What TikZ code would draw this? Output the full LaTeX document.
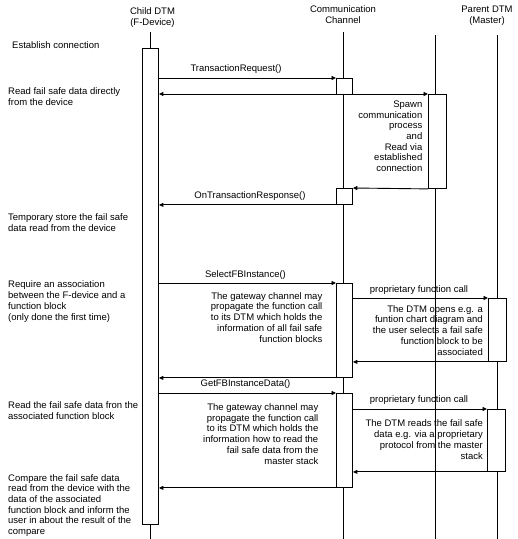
\documentclass[tikz,border=0pt]{standalone}
\usepackage{fontspec}
\setmainfont{Liberation Sans}
\usetikzlibrary{arrows.meta}
\begin{document}
\begin{tikzpicture}[x=1pt,y=-1pt,
  every node/.style={font=\fontsize{9.5}{10.7}\selectfont, inner sep=0pt},
  life/.style={line width=0.9pt},
  act/.style={draw, line width=0.9pt, fill=white, anchor=north west},
  msg/.style={line width=0.9pt, -{Triangle[length=4.5pt,width=4pt]}},
  dmsg/.style={line width=0.9pt, {Triangle[length=4.5pt,width=4pt]}-{Triangle[length=4.5pt,width=4pt]}},
  lbl/.style={anchor=base},
  ltxt/.style={anchor=base west, align=left},
  rtxt/.style={anchor=base east, align=right},
  head/.style={anchor=base, align=center}
]
\useasboundingbox (0,0) rectangle (518,539);
% lifeline heads (positions give the baseline of the last line)
\node[head] (hchild) at (152.5,25) {Child DTM\\(F-Device)};
\node[head] (hcomm) at (343,23.5) {Communication\\Channel};
\node[head] (hpar) at (487,23.5) {Parent DTM\\(Master)};
\coordinate (tchild) at (150,32);
\coordinate (bchild) at (150,539);
\coordinate (tcomm) at (343,32);
\coordinate (bcomm) at (343,539);
\coordinate (tmid) at (435,35);
\coordinate (bmid) at (435,539);
\coordinate (tpar) at (497,35);
\coordinate (bpar) at (497,539);
\draw[life] (tchild) -- (bchild);
\draw[life] (tcomm) -- (bcomm);
\draw[life] (tmid) -- (bmid);
\draw[life] (tpar) -- (bpar);

% activation boxes
\node[act, minimum width=16, minimum height=476.5] (cb) at (142,47.5) {};
\node[act, minimum width=16, minimum height=16] (cc1) at (336,78) {};
\node[act, minimum width=18, minimum height=94] (sp) at (428,94) {};
\node[act, minimum width=16, minimum height=16] (cc2) at (336,188) {};
\node[act, minimum width=16, minimum height=94] (cc3) at (336,283) {};
\node[act, minimum width=17.5, minimum height=63] (pb1) at (488,298) {};
\node[act, minimum width=16, minimum height=94] (cc4) at (336,393) {};
\node[act, minimum width=18, minimum height=62] (pb2) at (487,409) {};

% messages
\draw[msg] (cb.east |- cc1.north) -- (cc1.north west);
\draw[dmsg] (cb.east |- sp.north) -- (sp.north west);
\draw[msg] (sp.south west) -- (cc2.north east);
\draw[msg] (cc2.south west) -- (cb.east |- cc2.south);
\draw[msg] (cb.east |- cc3.north) -- (cc3.north west);
\draw[msg] (cc3.east |- pb1.north) -- (pb1.north west);
\draw[msg] (pb1.south west) -- (cc3.east |- pb1.south);
\draw[msg] (cc3.south west) -- (cb.east |- cc3.south);
\draw[msg] (cb.east |- cc4.north) -- (cc4.north west);
\draw[msg] (cc4.east |- pb2.north) -- (pb2.north west);
\draw[msg] (pb2.south west) -- (cc4.east |- pb2.south);
\draw[msg] (cc4.south west) -- (cb.east |- cc4.south);

% message labels
\node[lbl] (l1) at (236,71.5) {TransactionRequest()};
\node[lbl] (l2) at (250,198.5) {OnTransactionResponse()};
\node[lbl] (l3) at (245.5,277) {SelectFBInstance()};
\node[lbl] (l4) at (419,292) {proprietary function call};
\node[lbl] (l5) at (245.5,386.5) {GetFBInstanceData()};
\node[lbl] (l6) at (419,402.5) {proprietary function call};

% left notes (positions give the baseline of the last line)
\node[ltxt] (n1) at (12,48.5) {Establish connection};
\node[ltxt] (n2) at (8,105.5) {Read fail safe data directly\\from the device};
\node[ltxt] (n3) at (8,231) {Temporary store the fail safe\\data read from the device};
\node[ltxt] (n4) at (8,320) {Require an association\\between the F-device and a\\function block\\(only done the first time)};
\node[ltxt] (n5) at (8,419) {Read the fail safe data fron the\\associated function block};
\node[ltxt] (n6) at (8,534.5) {Compare the fail safe data\\read from the device with the\\data of the associated\\function block and inform the\\user in about the result of the\\compare};

% box notes (positions give the baseline of the last line)
\node[rtxt] (s1) at (422.5,171.5) {Spawn\\communication\\process\\and\\Read via\\established\\connection};
\node[rtxt] (g1) at (322.5,342) {The gateway channel may\\propagate the function call\\to its DTM which holds the\\information of all fail safe\\function blocks};
\node[rtxt] (d1) at (483,355) {The DTM opens e.g. a\\funtion chart diagram and\\the user selects a fail safe\\function block to be\\associated};
\node[rtxt] (g2) at (318.5,464) {The gateway channel may\\propagate the function call\\to its DTM which holds the\\information how to read the\\fail safe data from the\\master stack};
\node[rtxt] (d2) at (483,459) {The DTM reads the fail safe\\data e.g. via a proprietary\\protocol from the master\\stack};
\end{tikzpicture}
\end{document}
